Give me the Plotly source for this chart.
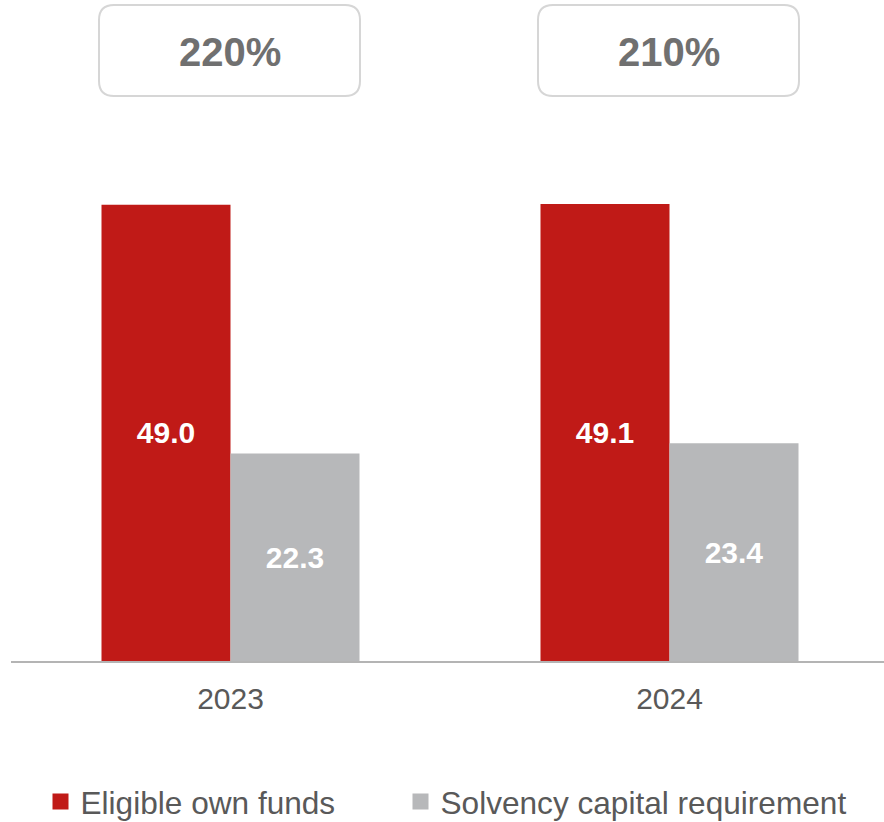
import plotly.graph_objects as go

# ---- data ----
years = ["2023", "2024"]
eligible_own_funds = [49.0, 49.1]
solvency_capital_requirement = [22.3, 23.4]
solvency_ratio = ["220%", "210%"]
series_names = ["Eligible own funds", "Solvency capital requirement"]

RED = "#C01A17"
GREY = "#B7B8BA"
TXT = "#595959"
FONT = "Liberation Sans, Arial, sans-serif"

W, H = 884, 822
ml, mr, mt, mb = 11, 0, 0, 161
plot_w = W - ml - mr
plot_h = H - mt - mb
px_per_cat = 439.0
x_range = [-0.5, -0.5 + plot_w / px_per_cat]
y_range = [0, 71.0]

fig = go.Figure()
for name, vals, col in zip(series_names,
                           [eligible_own_funds, solvency_capital_requirement],
                           [RED, GREY]):
    fig.add_trace(go.Bar(
        x=years, y=vals, name=name, legendgroup=name, showlegend=False,
        marker=dict(color=col, line=dict(width=0)),
        texttemplate="%{y:.1f}", textposition="inside", insidetextanchor="middle",
        textangle=0, textfont=dict(color="white", size=30, family=FONT, weight="bold"),
    ))
# legend entries (square swatches), one legend per series
legend_ids = ["legend", "legend2"]
for name, col, lid in zip(series_names, [RED, GREY], legend_ids):
    fig.add_trace(go.Scatter(
        x=[None], y=[None], mode="markers", name=name, legendgroup=name, legend=lid,
        marker=dict(symbol="square", size=17, color=col, line=dict(width=0)),
        hoverinfo="skip",
    ))

# rounded boxes with solvency ratio above each year
half_w = 130.5 / plot_w
box_top = (plot_h - 5) / plot_h
box_bot = (plot_h - 96) / plot_h
rx = 15 / plot_w
ry = 15 / plot_h
shapes = []
annotations = []
for i, (yr, ratio) in enumerate(zip(years, solvency_ratio)):
    cx = (i - x_range[0]) / (x_range[1] - x_range[0]) - 1.0 / plot_w
    x0, x1 = cx - half_w, cx + half_w
    y0, y1 = box_bot, box_top
    path = (f"M{x0+rx},{y0} L{x1-rx},{y0} Q{x1},{y0} {x1},{y0+ry} "
            f"L{x1},{y1-ry} Q{x1},{y1} {x1-rx},{y1} L{x0+rx},{y1} "
            f"Q{x0},{y1} {x0},{y1-ry} L{x0},{y0+ry} Q{x0},{y0} {x0+rx},{y0} Z")
    shapes.append(dict(type="path", xref="paper", yref="paper", path=path,
                       line=dict(color="#D6D6D6", width=2), fillcolor="white"))
    annotations.append(dict(x=cx, y=(y0 + y1) / 2 - 1.5 / plot_h, xref="paper", yref="paper",
                            text=ratio, showarrow=False,
                            font=dict(size=40, color="#707070", family=FONT, weight="bold"),
                            xanchor="center", yanchor="middle"))

legend_style = dict(orientation="h", xanchor="left", xref="container", yref="container",
                    y=(H - 802) / H, yanchor="middle",
                    font=dict(size=31.6, color=TXT, family=FONT),
                    itemsizing="trace", bgcolor="rgba(0,0,0,0)", borderwidth=0)

fig.update_layout(
    width=W, height=H,
    margin=dict(l=ml, r=mr, t=mt, b=mb, pad=0, autoexpand=False),
    paper_bgcolor="white", plot_bgcolor="white",
    barmode="group", bargap=0.4123, bargroupgap=0,
    font=dict(family=FONT, color=TXT, size=30),
    xaxis=dict(type="category", range=x_range, showgrid=False, zeroline=False,
               showline=True, linecolor="#B4B4B4", linewidth=1.5,
               ticks="outside", ticklen=10, tickcolor="rgba(0,0,0,0)",
               tickfont=dict(size=30, color=TXT, family=FONT), fixedrange=True,
               automargin=False),
    yaxis=dict(range=y_range, visible=False, showgrid=False, zeroline=False, fixedrange=True),
    legend=dict(x=40.5 / W, **legend_style),
    legend2=dict(x=400.5 / W, **legend_style),
    shapes=shapes, annotations=annotations,
)

fig.write_html("out.html", config={"displayModeBar": False},
               post_script="document.body.style.margin='0';")
